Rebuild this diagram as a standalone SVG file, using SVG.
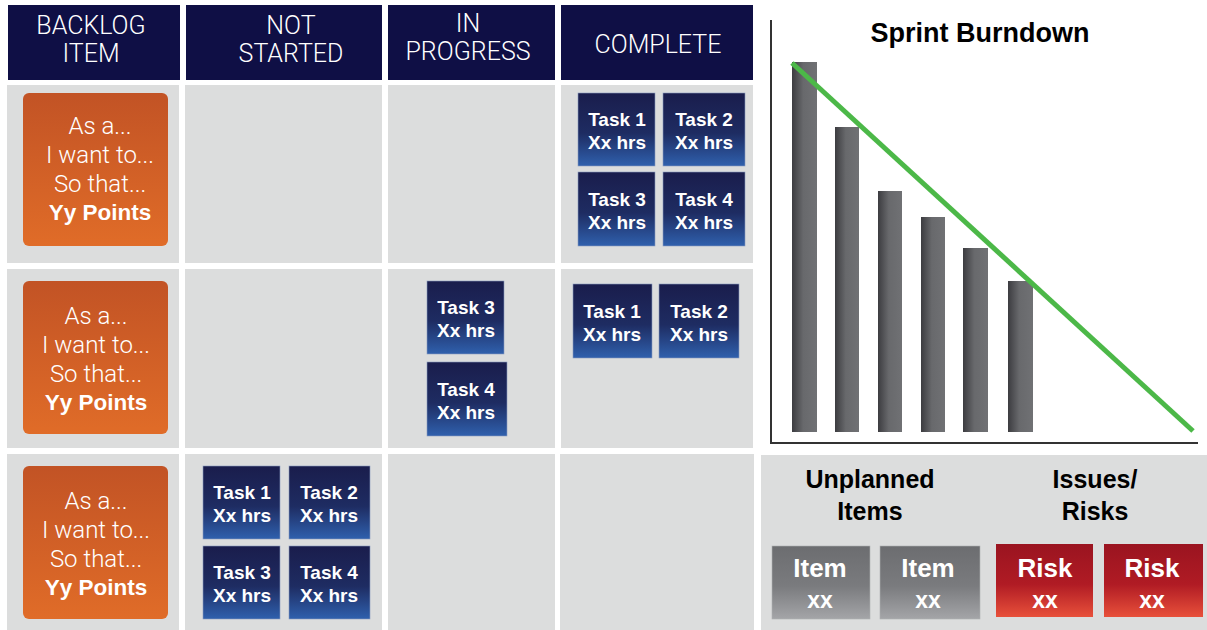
<svg xmlns="http://www.w3.org/2000/svg" width="1207" height="630" viewBox="0 0 1207 630">
<defs>
<linearGradient id="gTask" x1="0" y1="0" x2="0" y2="1"><stop offset="0" stop-color="#1a1d4c"/><stop offset="0.55" stop-color="#1e2c62"/><stop offset="1" stop-color="#2f60ad"/></linearGradient>
<linearGradient id="gOrange" x1="0" y1="0" x2="0" y2="1"><stop offset="0" stop-color="#c25325"/><stop offset="1" stop-color="#e06c28"/></linearGradient>
<linearGradient id="gBar" x1="0" y1="0" x2="1" y2="0"><stop offset="0" stop-color="#3c3c40"/><stop offset="0.45" stop-color="#68696c"/><stop offset="1" stop-color="#707174"/></linearGradient>
<linearGradient id="gItem" x1="0" y1="0" x2="0" y2="1"><stop offset="0" stop-color="#6c6d70"/><stop offset="0.55" stop-color="#7a7b7e"/><stop offset="1" stop-color="#a4a5a8"/></linearGradient>
<linearGradient id="gRisk" x1="0" y1="0" x2="0" y2="1"><stop offset="0" stop-color="#9a1420"/><stop offset="0.55" stop-color="#b01b24"/><stop offset="1" stop-color="#e8503a"/></linearGradient>
</defs>
<style>
.hdr{fill:#0f0f45}
.cell{fill:#dcdddd}
.htxt{font-family:Roboto,"Liberation Sans",sans-serif;font-weight:300;font-size:25px;fill:#ffffff;text-anchor:middle}
.story{fill:url(#gOrange)}
.stxt{font-family:Roboto,"Liberation Sans",sans-serif;font-weight:300;font-size:24px;fill:#ffffff;text-anchor:middle}
.sbold{font-family:"Liberation Sans",Arial,sans-serif;font-weight:bold;font-size:22.5px;fill:#ffffff;text-anchor:middle}
.task{fill:url(#gTask);stroke:#8a9cc0;stroke-width:0.6}
.ttxt{font-family:"Liberation Sans",Arial,sans-serif;font-weight:bold;font-size:19px;fill:#ffffff;text-anchor:middle}
.bar{fill:url(#gBar)}
.title{font-family:"Liberation Sans",Arial,sans-serif;font-weight:bold;font-size:27px;fill:#000000;text-anchor:middle}
.ptitle{font-family:"Liberation Sans",Arial,sans-serif;font-weight:bold;font-size:25px;fill:#000000;text-anchor:middle}
.item{fill:url(#gItem);stroke:#b0b1b3;stroke-width:0.6}
.risk{fill:url(#gRisk)}
.btxt{font-family:"Liberation Sans",Arial,sans-serif;font-weight:bold;font-size:26px;fill:#ffffff;text-anchor:middle}
.btxt2{font-family:"Liberation Sans",Arial,sans-serif;font-weight:bold;font-size:23px;fill:#ffffff;text-anchor:middle}
</style>
<rect x="0" y="0" width="1207" height="630" fill="#ffffff"/>

<g id="headers">
<g id="h-backlog"><rect class="hdr" x="8" y="5" width="172" height="75"/><text class="htxt" x="91" y="34">BACKLOG</text><text class="htxt" x="91" y="62">ITEM</text></g>
<g id="h-notstarted"><rect class="hdr" x="186" y="5" width="196" height="75"/><text class="htxt" x="291" y="34">NOT</text><text class="htxt" x="291" y="62">STARTED</text></g>
<g id="h-inprogress"><rect class="hdr" x="388" y="5" width="167" height="75"/><text class="htxt" x="468" y="32">IN</text><text class="htxt" x="468" y="60">PROGRESS</text></g>
<g id="h-complete"><rect class="hdr" x="561" y="5" width="192" height="75"/><text class="htxt" x="658" y="53">COMPLETE</text></g>
</g>

<g id="cells">
<rect class="cell" x="7" y="85" width="172" height="178"/>
<rect class="cell" x="185" y="85" width="197" height="178"/>
<rect class="cell" x="388" y="85" width="167" height="178"/>
<rect class="cell" x="561" y="85" width="192" height="178"/>
<rect class="cell" x="7" y="269" width="172" height="179"/>
<rect class="cell" x="185" y="269" width="197" height="179"/>
<rect class="cell" x="388" y="269" width="167" height="179"/>
<rect class="cell" x="561" y="269" width="192" height="179"/>
<rect class="cell" x="7" y="454" width="172" height="176"/>
<rect class="cell" x="185" y="454" width="197" height="176"/>
<rect class="cell" x="388" y="454" width="167" height="176"/>
<rect class="cell" x="560" y="454" width="194" height="176"/>
<rect class="cell" x="761" y="455" width="446" height="175"/>
</g>

<g id="story1"><rect class="story" x="23" y="93" width="145" height="153" rx="6"/>
<text class="stxt" x="100" y="134">As a...</text><text class="stxt" x="100" y="163">I want to...</text><text class="stxt" x="100" y="192">So that...</text><text class="sbold" x="100" y="220">Yy Points</text></g>
<g id="story2"><rect class="story" x="23" y="281" width="145" height="153" rx="6"/>
<text class="stxt" x="96" y="324">As a...</text><text class="stxt" x="96" y="353">I want to...</text><text class="stxt" x="96" y="382">So that...</text><text class="sbold" x="96" y="410">Yy Points</text></g>
<g id="story3"><rect class="story" x="23" y="466" width="145" height="153" rx="6"/>
<text class="stxt" x="96" y="509">As a...</text><text class="stxt" x="96" y="538">I want to...</text><text class="stxt" x="96" y="567">So that...</text><text class="sbold" x="96" y="595">Yy Points</text></g>

<g id="r1-complete-task1"><rect class="task" x="578" y="93" width="77" height="73"/><text class="ttxt" x="617" y="126">Task 1</text><text class="ttxt" x="617" y="149">Xx hrs</text></g>
<g id="r1-complete-task2"><rect class="task" x="663" y="93" width="82" height="73"/><text class="ttxt" x="704" y="126">Task 2</text><text class="ttxt" x="704" y="149">Xx hrs</text></g>
<g id="r1-complete-task3"><rect class="task" x="578" y="172" width="77" height="74"/><text class="ttxt" x="617" y="206">Task 3</text><text class="ttxt" x="617" y="229">Xx hrs</text></g>
<g id="r1-complete-task4"><rect class="task" x="663" y="172" width="82" height="74"/><text class="ttxt" x="704" y="206">Task 4</text><text class="ttxt" x="704" y="229">Xx hrs</text></g>

<g id="r2-progress-task3"><rect class="task" x="427" y="281" width="77" height="73"/><text class="ttxt" x="466" y="314">Task 3</text><text class="ttxt" x="466" y="337">Xx hrs</text></g>
<g id="r2-progress-task4"><rect class="task" x="427" y="362" width="80" height="74"/><text class="ttxt" x="466" y="396">Task 4</text><text class="ttxt" x="466" y="419">Xx hrs</text></g>
<g id="r2-complete-task1"><rect class="task" x="573" y="284" width="79" height="74"/><text class="ttxt" x="612" y="318">Task 1</text><text class="ttxt" x="612" y="341">Xx hrs</text></g>
<g id="r2-complete-task2"><rect class="task" x="659" y="284" width="80" height="74"/><text class="ttxt" x="699" y="318">Task 2</text><text class="ttxt" x="699" y="341">Xx hrs</text></g>

<g id="r3-notstarted-task1"><rect class="task" x="203" y="466" width="77" height="73"/><text class="ttxt" x="242" y="499">Task 1</text><text class="ttxt" x="242" y="522">Xx hrs</text></g>
<g id="r3-notstarted-task2"><rect class="task" x="289" y="466" width="81" height="73"/><text class="ttxt" x="329" y="499">Task 2</text><text class="ttxt" x="329" y="522">Xx hrs</text></g>
<g id="r3-notstarted-task3"><rect class="task" x="203" y="546" width="77" height="73"/><text class="ttxt" x="242" y="579">Task 3</text><text class="ttxt" x="242" y="602">Xx hrs</text></g>
<g id="r3-notstarted-task4"><rect class="task" x="289" y="546" width="81" height="73"/><text class="ttxt" x="329" y="579">Task 4</text><text class="ttxt" x="329" y="602">Xx hrs</text></g>

<g id="burndown">
<text class="title" x="980" y="42">Sprint Burndown</text>
<rect class="bar" x="792" y="62" width="25" height="370"/>
<rect class="bar" x="835" y="127" width="24" height="305"/>
<rect class="bar" x="878" y="191" width="24" height="241"/>
<rect class="bar" x="921" y="217" width="24" height="215"/>
<rect class="bar" x="963" y="248" width="25" height="184"/>
<rect class="bar" x="1008" y="281" width="25" height="151"/>
<polyline points="771,20 771,443 1198,443" fill="none" stroke="#333333" stroke-width="2"/>
<line x1="792" y1="63" x2="1193" y2="431" stroke="#4cb848" stroke-width="5"/>
</g>

<g id="unplanned">
<text class="ptitle" x="870" y="488">Unplanned</text><text class="ptitle" x="870" y="520">Items</text>
<g id="item1"><rect class="item" x="772" y="546" width="98" height="73"/><text class="btxt" x="820" y="577">Item</text><text class="btxt2" x="820" y="608">xx</text></g>
<g id="item2"><rect class="item" x="880" y="546" width="100" height="73"/><text class="btxt" x="928" y="577">Item</text><text class="btxt2" x="928" y="608">xx</text></g>
</g>
<g id="issues">
<text class="ptitle" x="1095" y="488">Issues/</text><text class="ptitle" x="1095" y="520">Risks</text>
<g id="risk1"><rect class="risk" x="996" y="544" width="97" height="73"/><text class="btxt" x="1045" y="577">Risk</text><text class="btxt2" x="1045" y="608">xx</text></g>
<g id="risk2"><rect class="risk" x="1104" y="544" width="99" height="73"/><text class="btxt" x="1152" y="577">Risk</text><text class="btxt2" x="1152" y="608">xx</text></g>
</g>
</svg>
